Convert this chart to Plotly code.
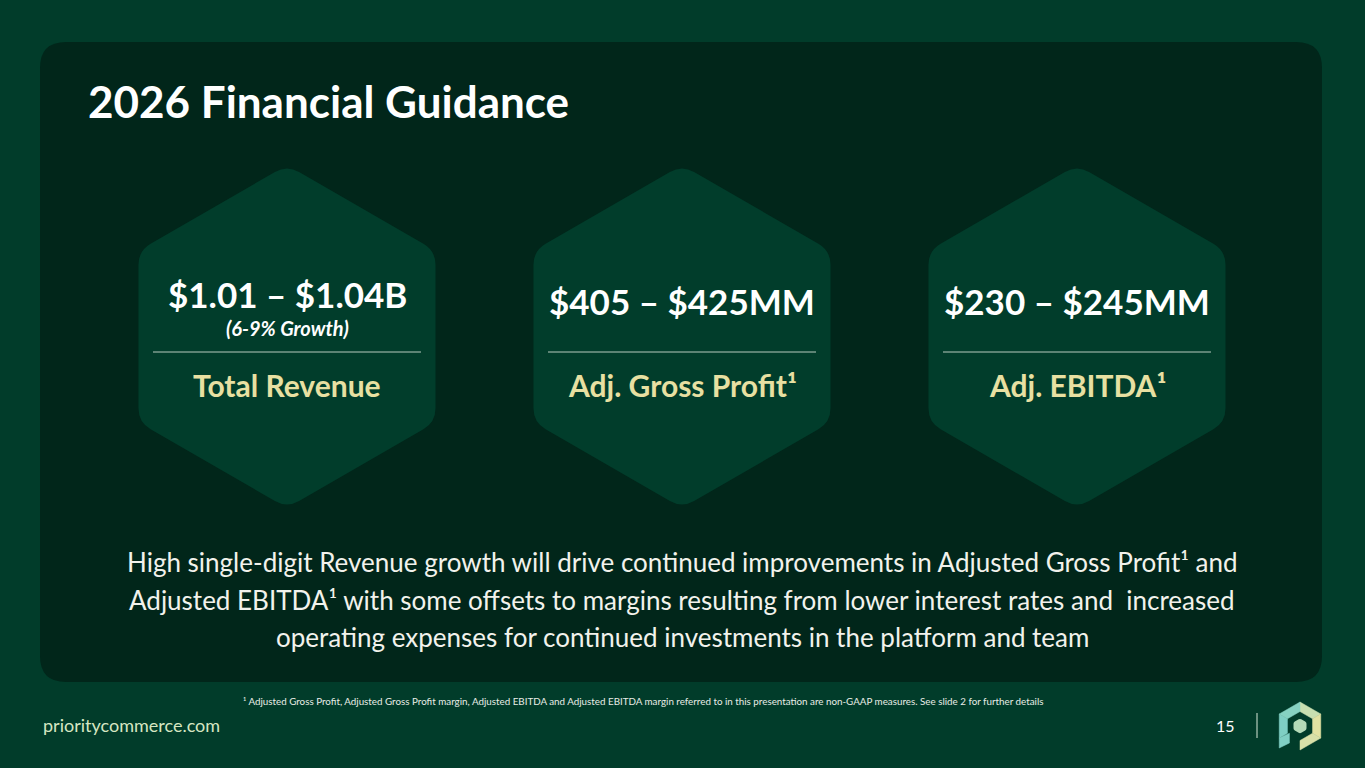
import math
import plotly.graph_objects as go

# slide text / values
title = "2026 Financial Guidance"
guidance_values = ["$1.01 – $1.04B", "$405 – $425MM", "$230 – $245MM"]
guidance_notes = ["(6-9% Growth)", "", ""]
guidance_labels = ["Total Revenue", "Adj. Gross Profit¹", "Adj. EBITDA¹"]
body_lines = [
    "High single-digit Revenue growth will drive continued improvements in Adjusted Gross Profit¹ and",
    "Adjusted EBITDA¹ with some offsets to margins resulting from lower interest rates and  increased",
    "operating expenses for continued investments in the platform and team",
]
footnote = ("¹ Adjusted Gross Profit, Adjusted Gross Profit margin, Adjusted EBITDA and Adjusted EBITDA "
            "margin referred to in this presentation are non-GAAP measures. See slide 2 for further details")
site = "prioritycommerce.com"
page_no = "15"

W, H = 1365, 768
FONT = "Lato"
BG = "#013c2a"
PANEL = "#01261a"
HEX = "#013d2b"
GOLD = "#e8e0a2"


def rounded_path(pts, r):
    # closed polygon with rounded corners
    n = len(pts)
    s = ""
    for i in range(n):
        p0 = pts[i - 1]
        p1 = pts[i]
        p2 = pts[(i + 1) % n]
        d1 = math.hypot(p0[0] - p1[0], p0[1] - p1[1])
        d2 = math.hypot(p2[0] - p1[0], p2[1] - p1[1])
        a = (p1[0] + (p0[0] - p1[0]) * r / d1, p1[1] + (p0[1] - p1[1]) * r / d1)
        b = (p1[0] + (p2[0] - p1[0]) * r / d2, p1[1] + (p2[1] - p1[1]) * r / d2)
        s += ("M" if i == 0 else "L") + f"{a[0]:.2f},{a[1]:.2f} Q{p1[0]:.2f},{p1[1]:.2f} {b[0]:.2f},{b[1]:.2f} "
    return s + "Z"


def hex_pts(cx, cy, R):
    return [(cx + R * math.cos(math.radians(a)), cy + R * math.sin(math.radians(a)))
            for a in (-90, -30, 30, 90, 150, 210)]


fig = go.Figure()
shapes = []
ann = []

# inner dark panel
shapes.append(dict(type="path", path=rounded_path([(40, 42), (1322, 42), (1322, 682), (40, 682)], 26),
                   fillcolor=PANEL, line_width=0, layer="below"))

# hexagon cards
centers = [287, 682, 1077]
for i, cx in enumerate(centers):
    cy = 336.5
    shapes.append(dict(type="path", path=rounded_path(hex_pts(cx, cy, 171.5), 14),
                       fillcolor=HEX, line_width=0, layer="below"))
    shapes.append(dict(type="line", x0=cx - 134, x1=cx + 134, y0=352, y1=352,
                       line=dict(color="#b9cbbf", width=1)))
    vy = 294 if guidance_notes[i] else 301
    ann.append(dict(x=cx, y=vy, text="<b>" + guidance_values[i] + "</b>", showarrow=False,
                    font=dict(family=FONT, size=35, color="white"), xanchor="center", yanchor="middle"))
    if guidance_notes[i]:
        ann.append(dict(x=cx, y=328, text="<b><i>" + guidance_notes[i] + "</i></b>", showarrow=False,
                        font=dict(family=FONT, size=20, color="white"), xanchor="center", yanchor="middle"))
    ann.append(dict(x=cx, y=385, text="<b>" + guidance_labels[i] + "</b>", showarrow=False,
                    font=dict(family=FONT, size=30, color=GOLD), xanchor="center", yanchor="middle"))

# title
ann.append(dict(x=86, y=101, text="<b>" + title + "</b>", showarrow=False,
                font=dict(family=FONT, size=44, color="white"), xanchor="left", yanchor="middle"))

# body paragraph
for yy, line in zip([562, 600, 637], body_lines):
    ann.append(dict(x=682, y=yy, text=line, showarrow=False,
                    font=dict(family=FONT, size=26, color="#f2f2ec"), xanchor="center", yanchor="middle"))

# footnote + footer
ann.append(dict(x=241, y=701, text=footnote, showarrow=False,
                font=dict(family=FONT, size=9.8, color="#e8ece6"), xanchor="left", yanchor="middle"))
ann.append(dict(x=41, y=725, text=site, showarrow=False,
                font=dict(family=FONT, size=18, color="#d6e6c2"), xanchor="left", yanchor="middle"))
ann.append(dict(x=1237, y=725, text=page_no, showarrow=False,
                font=dict(family=FONT, size=16, color="white"), xanchor="right", yanchor="middle"))
shapes.append(dict(type="line", x0=1257, x1=1257, y0=713, y1=738, line=dict(color="#d8e8d8", width=1)))

# logo: hexagon ring split into coloured segments + small inner hexagon
lx, ly = 1300, 726
outer = hex_pts(lx, ly, 24)
inner = hex_pts(lx, ly, 14.5)
seg_cols = ["#c8dfb0", "#e2e2a2", "#d8e0a8", "#a8d8b8", "#7fcfc4", "#86d2c2"]
for k in range(6):
    p = [outer[k], outer[(k + 1) % 6], inner[(k + 1) % 6], inner[k]]
    if k == 3:
        # gap where the stem of the "p" sits
        continue
    path = "M" + " L".join(f"{x:.2f},{y:.2f}" for x, y in p) + " Z"
    shapes.append(dict(type="path", path=path, fillcolor=seg_cols[k], line=dict(color=seg_cols[k], width=0.5)))
stem = [(outer[4][0], outer[4][1]), (outer[4][0], ly + 22), (inner[4][0] + 2, ly + 17), (inner[4][0] + 2, inner[4][1])]
shapes.append(dict(type="path", path="M" + " L".join(f"{x:.2f},{y:.2f}" for x, y in stem) + " Z",
                   fillcolor="#80cfc4", line=dict(color="#80cfc4", width=0.5)))
shapes.append(dict(type="path", path=rounded_path(hex_pts(lx, ly, 7.5), 1.5),
                   fillcolor="#b4dab8", line_width=0))

fig.update_layout(
    width=W, height=H,
    margin=dict(l=0, r=0, t=0, b=0),
    paper_bgcolor=BG, plot_bgcolor=BG,
    xaxis=dict(range=[0, W], visible=False, fixedrange=True),
    yaxis=dict(range=[H, 0], visible=False, fixedrange=True),
    shapes=shapes, annotations=ann,
    showlegend=False,
)
fig.write_html("out.html", config={"displayModeBar": False},
               post_script="document.body.style.margin='0';document.body.style.background='" + BG + "';")
